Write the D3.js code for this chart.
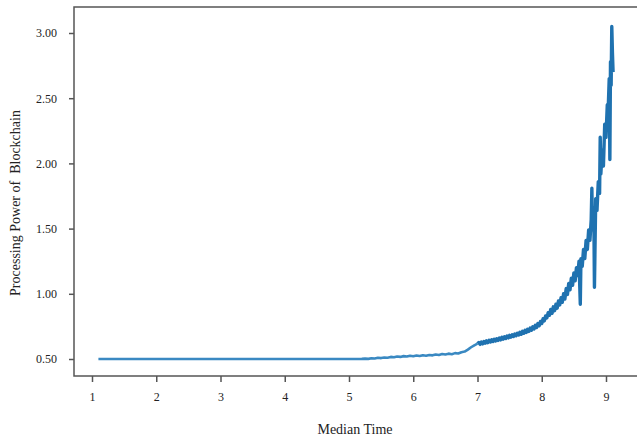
<!DOCTYPE html>
<html>
<head>
<meta charset="utf-8">
<script src="https://cdn.jsdelivr.net/npm/d3@7"></script>
<style>
  body { margin: 0; background: #fff; }
  svg { display: block; font-family: "Liberation Serif", "Times New Roman", serif; }
</style>
</head>
<body>
<svg id="chart" width="637" height="439"></svg>
<script>
// data: [median time, processing power]
const flatPart = [
  [1.10, 0.500], [2.00, 0.500], [3.00, 0.500], [4.00, 0.500], [5.00, 0.500], [5.20, 0.501]
];

const slowRise = [
  [5.25, 0.503], [5.30, 0.501], [5.35, 0.506], [5.40, 0.504], [5.45, 0.509], [5.50, 0.507],
  [5.55, 0.512], [5.60, 0.510], [5.65, 0.516], [5.70, 0.513], [5.75, 0.519], [5.80, 0.516],
  [5.85, 0.522], [5.90, 0.519], [5.95, 0.525], [6.00, 0.521], [6.05, 0.527], [6.10, 0.523],
  [6.15, 0.529], [6.20, 0.525], [6.25, 0.531], [6.30, 0.528], [6.35, 0.535], [6.40, 0.531],
  [6.45, 0.538], [6.50, 0.534], [6.55, 0.541], [6.60, 0.537], [6.65, 0.545], [6.70, 0.542],
  [6.75, 0.552], [6.80, 0.557], [6.85, 0.572], [6.90, 0.590], [6.95, 0.605], [7.00, 0.618]
];

const middlePart = [
  [7.02, 0.626], [7.04, 0.612], [7.06, 0.630], [7.08, 0.616], [7.10, 0.634], [7.12, 0.621],
  [7.14, 0.639], [7.16, 0.625], [7.18, 0.643], [7.20, 0.630], [7.22, 0.647], [7.24, 0.634],
  [7.26, 0.652], [7.28, 0.638], [7.30, 0.656], [7.32, 0.643], [7.34, 0.661], [7.36, 0.647],
  [7.38, 0.666], [7.40, 0.652], [7.42, 0.671], [7.44, 0.657], [7.46, 0.676], [7.48, 0.662],
  [7.50, 0.681], [7.52, 0.667], [7.54, 0.686], [7.56, 0.672], [7.58, 0.692], [7.60, 0.678],
  [7.62, 0.698], [7.64, 0.684], [7.66, 0.705], [7.68, 0.690], [7.70, 0.712], [7.72, 0.697],
  [7.74, 0.720], [7.76, 0.704], [7.78, 0.728], [7.80, 0.712], [7.82, 0.737], [7.84, 0.721],
  [7.86, 0.747], [7.88, 0.730], [7.90, 0.758], [7.92, 0.742], [7.94, 0.772], [7.96, 0.755],
  [7.98, 0.788], [8.00, 0.772], [8.02, 0.808], [8.04, 0.792], [8.06, 0.830]
];

const steepPart = [
  [8.08, 0.815], [8.10, 0.855], [8.12, 0.835], [8.14, 0.880], [8.16, 0.850], [8.18, 0.900],
  [8.20, 0.870], [8.22, 0.920], [8.24, 0.890], [8.26, 0.945], [8.28, 0.915], [8.30, 0.970],
  [8.32, 0.935], [8.34, 1.000], [8.36, 0.960], [8.38, 1.040], [8.40, 0.995], [8.42, 1.080],
  [8.44, 1.030], [8.46, 1.120], [8.48, 1.065], [8.50, 1.160], [8.52, 1.100], [8.54, 1.200],
  [8.56, 1.140], [8.58, 1.250], [8.60, 0.920], [8.61, 1.270], [8.63, 1.210], [8.65, 1.340],
  [8.67, 1.270], [8.69, 1.410], [8.71, 1.340], [8.73, 1.490], [8.75, 1.410], [8.77, 1.570],
  [8.78, 1.810], [8.79, 1.490], [8.81, 1.660], [8.82, 1.050], [8.84, 1.730], [8.86, 1.640],
  [8.88, 1.860], [8.90, 1.770], [8.91, 2.200], [8.92, 1.920], [8.94, 2.100], [8.96, 1.980],
  [8.98, 2.300], [9.00, 2.200], [9.02, 2.450], [9.03, 2.350], [9.05, 2.650], [9.06, 2.030],
  [9.07, 2.780], [9.08, 2.600], [9.09, 3.050], [9.10, 2.850], [9.11, 2.700]
];

const xTicks = [1, 2, 3, 4, 5, 6, 7, 8, 9];
const yTicks = [0.5, 1.0, 1.5, 2.0, 2.5, 3.0];

// layout
const svg = d3.select('#chart');
const frame = {left: 74, top: 7, bottom: 376, right: 660};

const x = d3.scaleLinear().domain([1, 9]).range([92, 606]);
const y = d3.scaleLinear().domain([0.5, 3.0]).range([359, 33]);

// frame (right side runs off the picture, like the original)
svg.append('rect')
  .attr('x', frame.left)
  .attr('y', frame.top)
  .attr('width', frame.right - frame.left)
  .attr('height', frame.bottom - frame.top)
  .attr('fill', 'none')
  .attr('stroke', '#555')
  .attr('stroke-width', 1.5);

// axes
const yAxis = svg.append('g')
  .attr('transform', `translate(${frame.left},0)`)
  .call(d3.axisLeft(y).tickValues(yTicks).tickFormat(d3.format('.2f')).tickSize(5).tickPadding(12));

const xAxis = svg.append('g')
  .attr('transform', `translate(0,${frame.bottom})`)
  .call(d3.axisBottom(x).tickValues(xTicks).tickFormat(d3.format('d')).tickSize(6).tickPadding(10));

[yAxis, xAxis].forEach(ax => {
  ax.select('.domain').remove();
  ax.selectAll('line').attr('stroke', '#555').attr('stroke-width', 1.5);
  ax.selectAll('text')
    .attr('fill', '#222')
    .style('font-size', '12px')
    .style('font-family', '"Liberation Serif", serif');
});

// axis titles
svg.append('text')
  .attr('x', 355)
  .attr('y', 434)
  .attr('text-anchor', 'middle')
  .attr('fill', '#222')
  .style('font-size', '14px')
  .text('Median Time');

svg.append('text')
  .attr('transform', 'translate(20,203) rotate(-90)')
  .attr('text-anchor', 'middle')
  .attr('fill', '#222')
  .style('font-size', '14px')
  .style('white-space', 'pre')
  .text('Processing Power of  Blockchain');

// the series: calm part thinner and lighter, noisy part as a thick band
const line = d3.line()
  .x(d => x(d[0]))
  .y(d => y(d[1]));

svg.append('path')
  .datum([...flatPart, ...slowRise])
  .attr('d', line)
  .attr('fill', 'none')
  .attr('stroke', '#3a89c2')
  .attr('stroke-width', 2.6)
  .attr('stroke-linejoin', 'round');

svg.append('path')
  .datum([slowRise[slowRise.length - 1], ...middlePart, ...steepPart])
  .attr('d', line)
  .attr('fill', 'none')
  .attr('stroke', '#1f72b0')
  .attr('stroke-width', 3.4)
  .attr('stroke-linejoin', 'round');
</script>
</body>
</html>
